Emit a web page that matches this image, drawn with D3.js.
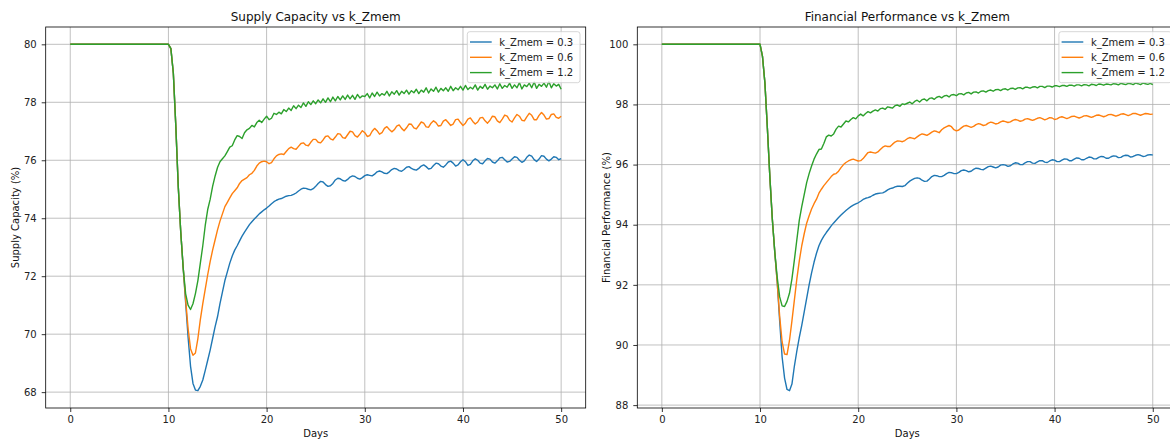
<!DOCTYPE html>
<html>
<head>
<meta charset="utf-8">
<script src="https://cdn.jsdelivr.net/npm/d3@7"></script>
<style>
  body { margin: 0; background: #fff; overflow: hidden; }
  svg { display: block; font-family: "DejaVu Sans", sans-serif; }
</style>
</head>
<body>
<div id="chart"></div>
<script>
// k_Zmem values shown in the legend
const kValues = ["0.3", "0.6", "1.2"];
const colors = ["#1f77b4", "#ff7f0e", "#2ca02c"];
const xTicks = [0, 10, 20, 30, 40, 50];

// time axis: day 0, then every quarter day from day 10 to day 50
const days = [0, ...d3.range(0, 161).map(i => 10 + i * 0.25)];

// Supply Capacity (%)
const supply03 = [80,
  80.0, 79.85, 79.0, 77.2, 75.1, 73.55, 72.3, 71.1, 69.9, 68.9, 68.3, 68.07, 68.05, 68.2, 68.42, 68.75, 69.1, 69.45, 69.85, 70.25,
  70.6, 71.05, 71.45, 71.85, 72.15, 72.45, 72.7, 72.9, 73.05, 73.22, 73.38, 73.52, 73.65, 73.78, 73.88, 73.97, 74.06, 74.15, 74.22, 74.29,
  74.35, 74.42, 74.5, 74.57, 74.62, 74.66, 74.68, 74.72, 74.76, 74.78, 74.79, 74.82, 74.87, 74.94, 75.0, 75.04, 75.03, 75.0, 74.98, 75.02,
  75.1, 75.2, 75.27, 75.25, 75.16, 75.1, 75.12, 75.2, 75.32, 75.38, 75.36, 75.3, 75.28, 75.34, 75.42, 75.46, 75.44, 75.38, 75.35, 75.4,
  75.47, 75.5, 75.48, 75.46, 75.52, 75.6, 75.63, 75.6, 75.55, 75.54, 75.6, 75.68, 75.72, 75.7, 75.64, 75.62, 75.68, 75.76, 75.78, 75.72,
  75.68, 75.66, 75.72, 75.8, 75.84, 75.78, 75.7, 75.72, 75.82, 75.9, 75.88, 75.8, 75.76, 75.84, 75.94, 75.97, 75.9, 75.8, 75.84, 75.95,
  76.02, 75.95, 75.82, 75.86, 75.98, 76.05, 76.0, 75.9, 75.88, 75.98, 76.06, 76.04, 75.94, 75.9, 75.98, 76.08, 76.1, 76.02, 75.94, 75.96,
  76.04, 76.12, 76.1, 76.0, 75.93, 75.98, 76.1, 76.18, 76.14, 76.02, 75.96, 76.04, 76.16, 76.14, 76.04, 75.98, 76.04, 76.12, 76.1, 76.02,
  76.06];
const supply06 = [80,
  80.0, 79.85, 79.0, 77.2, 75.1, 73.55, 72.3, 71.2, 70.2, 69.5, 69.27, 69.35, 69.85, 70.5, 71.05, 71.55, 72.05, 72.5, 72.9, 73.25,
  73.6, 73.9, 74.15, 74.4, 74.55, 74.7, 74.85, 74.95, 75.05, 75.2, 75.3, 75.35, 75.4, 75.5, 75.55, 75.65, 75.8, 75.9, 75.95, 75.97,
  75.95, 75.88, 75.92, 76.05, 76.15, 76.2, 76.22, 76.2, 76.3, 76.4, 76.45, 76.4, 76.38, 76.48, 76.58, 76.6, 76.52, 76.5, 76.62, 76.72,
  76.72, 76.62, 76.6, 76.7, 76.82, 76.84, 76.74, 76.7, 76.8, 76.92, 76.9, 76.78, 76.76, 76.88, 77.0, 76.98, 76.85, 76.8, 76.9, 77.02,
  76.95, 76.82, 76.85, 77.0, 77.1, 77.02, 76.9, 76.95, 77.1, 77.16, 77.06, 76.98, 77.05, 77.18, 77.22, 77.1, 77.02, 77.12, 77.25, 77.24,
  77.12, 77.08, 77.2, 77.32, 77.28, 77.15, 77.14, 77.28, 77.36, 77.3, 77.18, 77.2, 77.35, 77.4, 77.3, 77.2, 77.25, 77.4, 77.42, 77.3,
  77.2, 77.28, 77.42, 77.46, 77.34, 77.25, 77.32, 77.46, 77.48, 77.36, 77.28, 77.38, 77.52, 77.5, 77.36, 77.3, 77.42, 77.56, 77.52, 77.38,
  77.32, 77.46, 77.58, 77.52, 77.38, 77.36, 77.5, 77.62, 77.55, 77.4, 77.4, 77.55, 77.65, 77.56, 77.42, 77.44, 77.58, 77.6, 77.48, 77.45,
  77.52];
const supply12 = [80,
  80.0, 79.85, 79.0, 77.2, 75.1, 73.55, 72.3, 71.4, 71.0, 70.85, 71.05, 71.4, 71.85, 72.45, 73.05, 73.75, 74.3, 74.65, 75.1, 75.45,
  75.75, 75.95, 76.05, 76.15, 76.3, 76.45, 76.5, 76.7, 76.85, 76.82, 76.75, 76.95, 77.05, 77.1, 77.2, 77.15, 77.3, 77.38, 77.3, 77.42,
  77.52, 77.4, 77.45, 77.62, 77.58, 77.66, 77.6, 77.75, 77.68, 77.8, 77.72, 77.88, 77.78, 77.9, 77.82, 77.98, 77.86, 78.02, 77.92, 78.05,
  77.95, 78.08, 77.98, 78.12, 78.0, 78.15, 78.02, 78.18, 78.05, 78.2, 78.08, 78.22, 78.1, 78.25, 78.12, 78.24, 78.1, 78.27, 78.15, 78.22,
  78.2, 78.3, 78.15, 78.32, 78.2, 78.35, 78.22, 78.3, 78.25, 78.38, 78.22, 78.36, 78.28, 78.4, 78.25, 78.38, 78.3, 78.42, 78.28, 78.4,
  78.33, 78.45, 78.3, 78.42, 78.35, 78.5, 78.32, 78.46, 78.38, 78.52, 78.35, 78.48, 78.4, 78.5, 78.38, 78.55, 78.4, 78.5, 78.43, 78.55,
  78.42, 78.58, 78.44, 78.52, 78.46, 78.6, 78.42, 78.55, 78.48, 78.62, 78.45, 78.56, 78.5, 78.6, 78.46, 78.64, 78.48, 78.58, 78.52, 78.66,
  78.48, 78.6, 78.5, 78.68, 78.46, 78.6, 78.54, 78.66, 78.5, 78.7, 78.48, 78.62, 78.55, 78.66, 78.52, 78.72, 78.5, 78.64, 78.56, 78.62,
  78.45];

// Financial Performance (%)
const finance03 = [100,
  100.0, 99.6, 98.7, 97.2, 95.6, 94.2, 93.1, 92.1, 90.8, 89.6, 88.9, 88.52, 88.48, 88.7, 89.3, 89.8, 90.25, 90.65, 91.1, 91.55,
  92.0, 92.4, 92.75, 93.05, 93.3, 93.48, 93.62, 93.74, 93.85, 93.96, 94.06, 94.15, 94.24, 94.32, 94.4, 94.47, 94.54, 94.6, 94.65, 94.69,
  94.73, 94.78, 94.84, 94.88, 94.9, 94.93, 94.98, 95.02, 95.04, 95.05, 95.06, 95.1, 95.16, 95.2, 95.22, 95.26, 95.28, 95.28, 95.27, 95.3,
  95.38, 95.45, 95.5, 95.54, 95.56, 95.54, 95.48, 95.44, 95.45, 95.52, 95.6, 95.64, 95.63, 95.6, 95.6, 95.64, 95.7, 95.74, 95.73, 95.7,
  95.7, 95.74, 95.8, 95.82, 95.8, 95.76, 95.78, 95.84, 95.88, 95.87, 95.84, 95.83, 95.88, 95.93, 95.95, 95.92, 95.89, 95.92, 95.98, 96.0,
  95.98, 95.94, 95.96, 96.02, 96.06, 96.05, 96.0, 96.0, 96.06, 96.1, 96.1, 96.05, 96.04, 96.09, 96.13, 96.13, 96.08, 96.07, 96.12, 96.16,
  96.15, 96.1, 96.1, 96.15, 96.19, 96.18, 96.13, 96.13, 96.18, 96.22, 96.21, 96.16, 96.16, 96.21, 96.25, 96.24, 96.19, 96.19, 96.24, 96.27,
  96.26, 96.21, 96.21, 96.26, 96.29, 96.28, 96.23, 96.24, 96.29, 96.31, 96.3, 96.25, 96.27, 96.31, 96.33, 96.31, 96.27, 96.28, 96.32, 96.33,
  96.32];
const finance06 = [100,
  100.0, 99.6, 98.7, 97.2, 95.6, 94.2, 93.1, 92.1, 90.95, 90.1, 89.7, 89.68, 90.15, 90.8, 91.5, 92.2, 92.8, 93.3, 93.7, 94.05,
  94.3, 94.52, 94.7, 94.85, 95.05, 95.18, 95.3, 95.4, 95.5, 95.6, 95.68, 95.7, 95.78, 95.9, 96.0, 96.07, 96.12, 96.16, 96.18, 96.15,
  96.12, 96.13, 96.2, 96.3, 96.4, 96.42, 96.4, 96.38, 96.42, 96.5, 96.58, 96.62, 96.6, 96.6, 96.68, 96.75, 96.79, 96.78, 96.76, 96.8,
  96.86, 96.9, 96.88, 96.86, 96.92, 96.98, 97.02, 97.0, 96.97, 97.02, 97.08, 97.12, 97.1, 97.06, 97.16, 97.22, 97.26, 97.3, 97.26, 97.16,
  97.12, 97.15, 97.22, 97.28, 97.3, 97.27, 97.24, 97.27, 97.33, 97.36, 97.34, 97.3, 97.32, 97.38, 97.41, 97.39, 97.35, 97.37, 97.42, 97.45,
  97.43, 97.4, 97.42, 97.47, 97.5, 97.48, 97.44, 97.46, 97.51, 97.53, 97.5, 97.47, 97.5, 97.54, 97.56, 97.53, 97.49, 97.52, 97.56, 97.55,
  97.5, 97.52, 97.57, 97.59, 97.56, 97.53, 97.56, 97.6, 97.61, 97.58, 97.55, 97.58, 97.62, 97.63, 97.6, 97.57, 97.6, 97.64, 97.65, 97.62,
  97.59, 97.62, 97.66, 97.67, 97.64, 97.61, 97.64, 97.68, 97.69, 97.66, 97.63, 97.66, 97.7, 97.7, 97.67, 97.64, 97.67, 97.7, 97.69, 97.67,
  97.68];
const finance12 = [100,
  100.0, 99.6, 98.7, 97.2, 95.6, 94.2, 93.1, 92.25, 91.6, 91.3, 91.28, 91.45, 91.72, 92.2, 92.83, 93.5, 94.15, 94.6, 95.0, 95.4,
  95.7, 95.95, 96.18, 96.35, 96.5, 96.52, 96.7, 96.92, 96.98, 96.95, 97.02, 97.18, 97.28, 97.25, 97.35, 97.45, 97.42, 97.5, 97.56, 97.52,
  97.62, 97.68, 97.62, 97.7, 97.76, 97.72, 97.78, 97.82, 97.78, 97.86, 97.88, 97.84, 97.92, 97.9, 97.88, 97.96, 97.98, 97.94, 98.02, 98.0,
  98.04, 98.08, 98.02, 98.1, 98.14, 98.08, 98.16, 98.18, 98.12, 98.2, 98.22, 98.17, 98.24, 98.27, 98.22, 98.28, 98.3, 98.25, 98.32, 98.33,
  98.29, 98.35, 98.36, 98.32, 98.38, 98.4, 98.35, 98.41, 98.42, 98.38, 98.44, 98.45, 98.41, 98.46, 98.48, 98.44, 98.49, 98.5, 98.46, 98.51,
  98.52, 98.48, 98.53, 98.54, 98.5, 98.55, 98.56, 98.52, 98.57, 98.57, 98.54, 98.58, 98.59, 98.55, 98.6, 98.6, 98.56, 98.61, 98.61, 98.58,
  98.62, 98.62, 98.59, 98.63, 98.63, 98.6, 98.64, 98.64, 98.61, 98.65, 98.65, 98.62, 98.66, 98.65, 98.62, 98.67, 98.66, 98.63, 98.68, 98.67,
  98.64, 98.68, 98.67, 98.65, 98.69, 98.68, 98.65, 98.7, 98.68, 98.66, 98.7, 98.69, 98.66, 98.71, 98.69, 98.66, 98.71, 98.69, 98.67, 98.7,
  98.66];

const width = 1170;
const height = 439;

const svg = d3.select("#chart")
  .append("svg")
  .attr("width", width)
  .attr("height", height)
  .style("background", "#fff");

// matplotlib style auto limits: 5% margin on each side
function padded(extent) {
  const pad = (extent[1] - extent[0]) * 0.05;
  return [extent[0] - pad, extent[1] + pad];
}

function drawPanel(left, title, yLabel, seriesList, yTicks) {
  const top = 27, w = 540, h = 381;
  const g = svg.append("g").attr("transform", `translate(${left},${top})`);

  const x = d3.scaleLinear().domain(padded(d3.extent(days))).range([0, w]);
  const allValues = seriesList.flat();
  const y = d3.scaleLinear().domain(padded(d3.extent(allValues))).range([h, 0]);

  // grid
  g.append("g").selectAll("line")
    .data(xTicks).enter().append("line")
    .attr("x1", d => x(d)).attr("x2", d => x(d))
    .attr("y1", 0).attr("y2", h)
    .attr("stroke", "#b0b0b0").attr("stroke-width", 0.8);
  g.append("g").selectAll("line")
    .data(yTicks).enter().append("line")
    .attr("x1", 0).attr("x2", w)
    .attr("y1", d => y(d)).attr("y2", d => y(d))
    .attr("stroke", "#b0b0b0").attr("stroke-width", 0.8);

  // axes
  const xAxis = g.append("g")
    .attr("transform", `translate(0,${h})`)
    .call(d3.axisBottom(x).tickValues(xTicks).tickSizeInner(4).tickSizeOuter(0).tickPadding(4));
  const yAxis = g.append("g")
    .call(d3.axisLeft(y).tickValues(yTicks).tickSizeInner(4).tickSizeOuter(0).tickPadding(5));
  [xAxis, yAxis].forEach(a => {
    a.select(".domain").remove();
    a.selectAll("line").attr("stroke", "#000").attr("stroke-width", 0.8);
    a.selectAll("text").attr("fill", "#222").style("font-size", "10px").style("font-family", "DejaVu Sans");
  });

  // lines
  const line = d3.line()
    .x((d, i) => x(days[i]))
    .y(d => y(d));
  g.selectAll(".series")
    .data(seriesList)
    .enter().append("path")
    .attr("class", "series")
    .attr("d", line)
    .attr("fill", "none")
    .attr("stroke", (d, i) => colors[i])
    .attr("stroke-width", 1.4)
    .attr("stroke-linejoin", "round");

  // frame
  g.append("rect")
    .attr("width", w).attr("height", h)
    .attr("fill", "none").attr("stroke", "#000").attr("stroke-width", 0.8);

  // title and labels
  g.append("text")
    .attr("x", w / 2).attr("y", -6)
    .attr("text-anchor", "middle")
    .style("font-size", "12px").attr("fill", "#111")
    .text(title);
  g.append("text")
    .attr("x", w / 2).attr("y", h + 29)
    .attr("text-anchor", "middle")
    .style("font-size", "10px").attr("fill", "#111")
    .text("Days");
  g.append("text")
    .attr("transform", `translate(${-27},${h / 2}) rotate(-90)`)
    .attr("text-anchor", "middle")
    .style("font-size", "10px").attr("fill", "#111")
    .text(yLabel);

  // legend
  const lw = 112.7, lx = w - 5.7 - lw, ly = 4.7;
  const legend = g.append("g").attr("transform", `translate(${lx},${ly})`);
  legend.append("rect")
    .attr("width", lw).attr("height", 51)
    .attr("rx", 2.5)
    .attr("fill", "#fff").attr("fill-opacity", 0.8)
    .attr("stroke", "#cccccc").attr("stroke-width", 0.8);
  kValues.forEach((k, i) => {
    const cy = 10.3 + i * 15.3;
    legend.append("line")
      .attr("x1", 2.7).attr("x2", 24.4)
      .attr("y1", cy).attr("y2", cy)
      .attr("stroke", colors[i]).attr("stroke-width", 1.4);
    legend.append("text")
      .attr("x", 32).attr("y", cy + 3.6)
      .style("font-size", "10px").attr("fill", "#222")
      .text(`k_Zmem = ${k}`);
  });
}

drawPanel(45.7, "Supply Capacity vs k_Zmem", "Supply Capacity (%)",
  [supply03, supply06, supply12], [68, 70, 72, 74, 76, 78, 80]);
drawPanel(637.3, "Financial Performance vs k_Zmem", "Financial Performance (%)",
  [finance03, finance06, finance12], [88, 90, 92, 94, 96, 98, 100]);
</script>
</body>
</html>
